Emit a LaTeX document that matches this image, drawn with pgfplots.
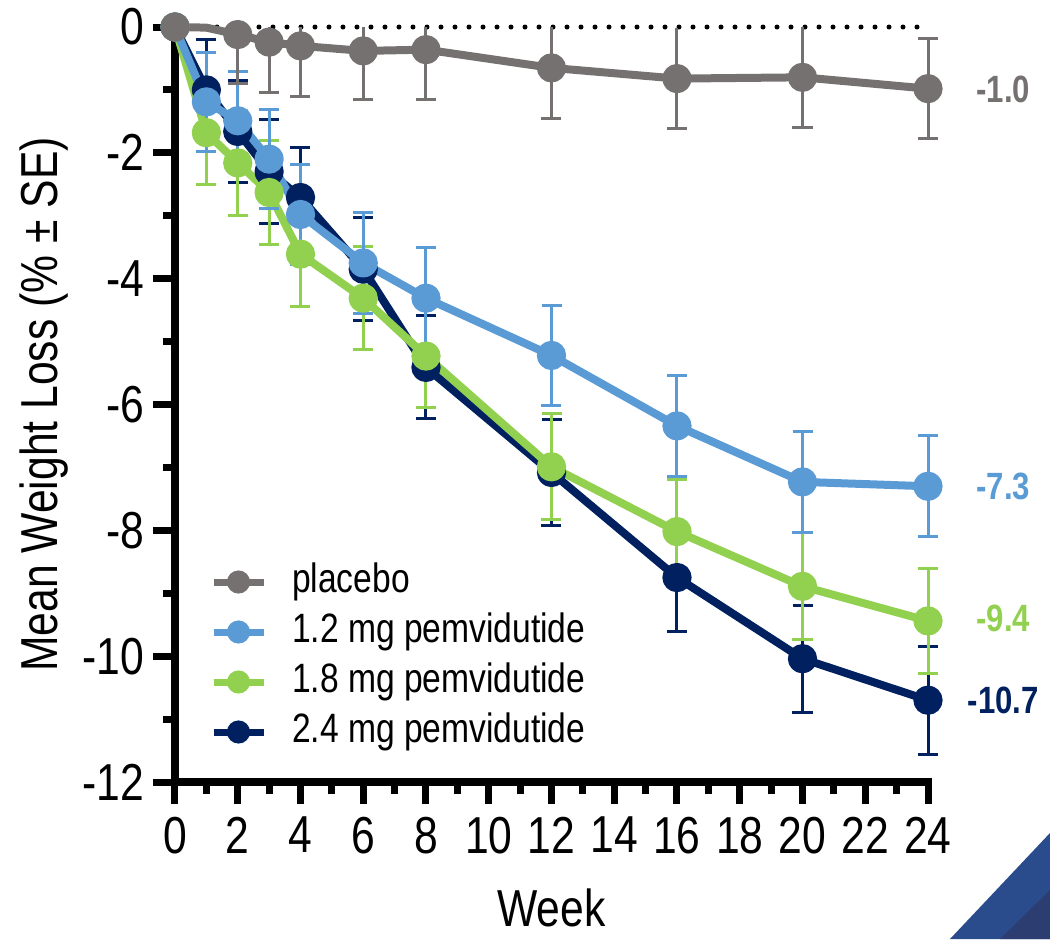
\documentclass[border=0pt]{standalone}
\usepackage{fontspec}
\setmainfont{Liberation Sans}[FakeStretch=0.82]
\usepackage{pgfplots}
\pgfplotsset{compat=1.18}
\usepackage{pgfplotstable}

\definecolor{cPla}{HTML}{767171}
\definecolor{cA}{HTML}{5B9BD5}
\definecolor{cB}{HTML}{92D050}
\definecolor{cC}{HTML}{002060}
\definecolor{triA}{HTML}{2B4C8C}
\definecolor{triB}{HTML}{2C3D72}

% placebo line
\pgfplotstableread{
w m
0 0.00
1 -0.01
2 -0.12
3 -0.24
4 -0.30
6 -0.38
8 -0.36
12 -0.65
16 -0.82
20 -0.80
24 -0.98
}\tabP
% placebo error bars (lo = SE below, hi = part above, cut at 0)
\pgfplotstableread{
w m lo hi
2 -0.12 0.78 0.12
3 -0.24 0.80 0.24
4 -0.30 0.80 0.30
6 -0.38 0.78 0.38
8 -0.36 0.80 0.36
12 -0.65 0.80 0.65
16 -0.82 0.80 0.80
20 -0.80 0.80 0.80
24 -0.98 0.80 0.80
}\tabPe
% 1.2 mg
\pgfplotstableread{
w m e
0 0.00 0
1 -1.19 0.79
2 -1.49 0.79
3 -2.10 0.79
4 -2.98 0.79
6 -3.75 0.80
8 -4.31 0.80
12 -5.22 0.80
16 -6.34 0.80
20 -7.23 0.80
24 -7.30 0.80
}\tabA
% 1.8 mg
\pgfplotstableread{
w m e
0 0.00 0
1 -1.68 0.82
2 -2.16 0.83
3 -2.63 0.83
4 -3.61 0.83
6 -4.31 0.82
8 -5.23 0.82
12 -6.99 0.84
16 -8.02 0.83
20 -8.89 0.85
24 -9.44 0.84
}\tabB
% 2.4 mg
\pgfplotstableread{
w m e
0 0.00 0
1 -1.00 0.80
2 -1.66 0.81
3 -2.30 0.83
4 -2.71 0.80
6 -3.85 0.82
8 -5.41 0.82
12 -7.08 0.84
16 -8.75 0.85
20 -10.04 0.85
24 -10.70 0.86
}\tabC

\pgfplotsset{
  legimg/.style={line width=3.5pt, mark=*, mark size=4pt, mark options={solid},
    legend image code/.code={\draw[mark repeat=2,mark phase=2,##1] plot coordinates {(0pt,0pt) (12.5pt,0pt) (25pt,0pt)};}},
  series/.style={forget plot, color=#1, line width=4pt, line join=round, mark=*, mark size=5.3pt, mark options={solid},
    error bars/.cd, y dir=both, y explicit,
    error bar style={line width=1.5pt, solid},
    error mark options={rotate=90, mark size=5pt, line width=1.5pt, solid}},
}

\begin{document}
\begin{tikzpicture}
\useasboundingbox (-87.5pt,-78.5pt) rectangle (437.5pt,391pt);
\fill[triA] (387.5pt,-78.5pt) -- (437.5pt,-25.5pt) -- (437.5pt,-78.5pt) -- cycle;
\fill[triB] (412.5pt,-78.5pt) -- (437.5pt,-54pt) -- (437.5pt,-78.5pt) -- cycle;
\begin{axis}[
  at={(0pt,0pt)}, anchor=south west,
  scale only axis, width=376.5pt, height=377.5pt,
  xmin=0, xmax=24, ymin=-12, ymax=0,
  axis x line*=bottom, axis y line*=left,
  axis line style={line width=4pt, line cap=rect, -},
  xtick={0,2,...,24}, ytick={-12,-10,...,0},
  xticklabels={0,2,4,6,8,10,12,14,16,18,20,22,24},
  yticklabels={-12,-10,-8,-6,-4,-2,0},
  minor x tick num=1, minor y tick num=1,
  tick align=outside, major tick length=11pt, minor tick length=6pt,
  tick style={black, line width=3.5pt},
  ticklabel style={font=\fontsize{26}{30}\selectfont},
  xticklabel style={yshift=-3pt},
  yticklabel style={xshift=-1pt},
  xlabel={Week}, ylabel={Mean Weight Loss (\% ± SE)},
  every axis x label/.style={at={(rel axis cs:0.5,-0.167)}, anchor=center, font=\fontsize{26}{30}\selectfont},
  every axis y label/.style={at={(rel axis cs:-0.174,0.5)}, anchor=center, rotate=90, font=\fontsize{26}{30}\selectfont},
  clip=false,
  legend cell align=left,
  legend style={draw=none, fill=none, inner sep=0pt, outer sep=0pt,
    at={(rel axis cs:0.0465,0.298)}, anchor=north west,
    font=\fontsize{20.5}{24}\selectfont,
    nodes={inner sep=2.5pt, text height=15pt, text depth=5pt},
    column sep=10pt, row sep=0pt},
]
\addlegendimage{legimg, color=cPla}\addlegendentry{placebo}
\addlegendimage{legimg, color=cA}\addlegendentry{1.2 mg pemvidutide}
\addlegendimage{legimg, color=cB}\addlegendentry{1.8 mg pemvidutide}
\addlegendimage{legimg, color=cC}\addlegendentry{2.4 mg pemvidutide}

% zero reference line
\addplot[forget plot, black, line width=2.5pt, line cap=round, dash pattern=on 0pt off 7pt] coordinates {(0,0) (24,0)};

\addplot[series=cC] table[x=w, y=m, y error=e] {\tabC};
\addplot[series=cB] table[x=w, y=m, y error=e] {\tabB};
\addplot[series=cA] table[x=w, y=m, y error=e] {\tabA};

% placebo error bars
\addplot[forget plot, draw=none, mark=none,
  error bars/.cd, y dir=minus, y explicit,
  error bar style={draw=cPla, line width=1.5pt, solid},
  error mark options={draw=cPla, rotate=90, mark size=5pt, line width=1.5pt, solid}]
  table[x=w, y=m, y error minus=lo] {\tabPe};
\addplot[forget plot, draw=none, mark=none,
  error bars/.cd, y dir=plus, y explicit, error mark=none,
  error bar style={draw=cPla, line width=1.5pt, solid}]
  table[x=w, y=m, y error plus=hi] {\tabPe};
\addplot[forget plot, draw=none, mark=none, skip coords between index={0}{8},
  error bars/.cd, y dir=plus, y explicit,
  error bar style={draw=cPla, line width=1.5pt, solid},
  error mark options={draw=cPla, rotate=90, mark size=5pt, line width=1.5pt, solid}]
  table[x=w, y=m, y error plus=hi] {\tabPe};
% placebo line
\addplot[forget plot, color=cPla, line width=4pt, line join=round, mark=*, mark size=5.3pt, mark options={solid},
  mark indices={1,3,4,5,6,7,8,9,10,11}] table[x=w, y=m] {\tabP};

\node[text=cPla, font=\bfseries\fontsize{19}{22}\selectfont] at (axis cs:26.4,-1.0) {-1.0};
\node[text=cA, font=\bfseries\fontsize{19}{22}\selectfont] at (axis cs:26.4,-7.3) {-7.3};
\node[text=cB, font=\bfseries\fontsize{19}{22}\selectfont] at (axis cs:26.4,-9.4) {-9.4};
\node[text=cC, font=\bfseries\fontsize{19}{22}\selectfont] at (axis cs:26.4,-10.7) {-10.7};
\end{axis}
\end{tikzpicture}
\end{document}
